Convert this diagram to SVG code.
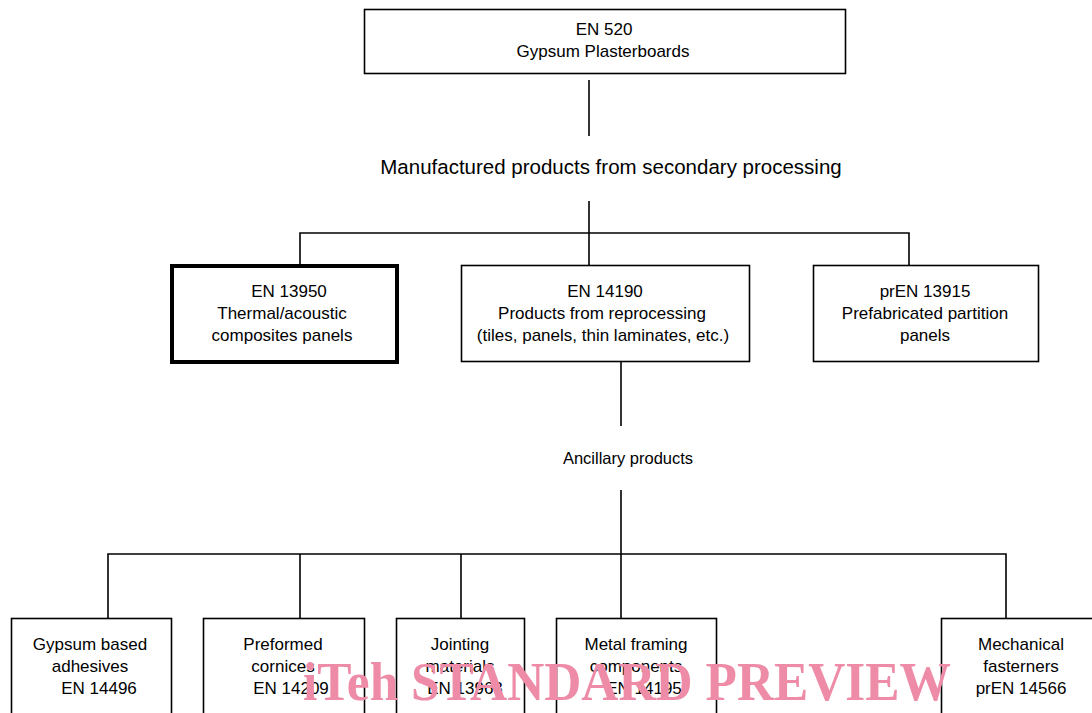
<svg xmlns="http://www.w3.org/2000/svg" width="1092" height="713" viewBox="0 0 1092 713">
<style>
.box{fill:#fff;stroke:#000;stroke-width:1.6}
.thick{fill:#fff;stroke:#000;stroke-width:4}
.t{font-family:"Liberation Sans",Arial,sans-serif;font-size:17px;fill:#000;text-anchor:middle}
.c{stroke:#000;stroke-width:1.6;fill:none}
.wm{font-family:"Liberation Serif","Times New Roman",serif;font-weight:bold;font-size:54px;fill:#EE8CA8}
</style>
<rect width="1092" height="713" fill="#fff"/>
<g id="connectors">
<path class="c" d="M589 80V136"/>
<path class="c" d="M589 201V265M300 265V233H909V265"/>
<path class="c" d="M621 362V426"/>
<path class="c" d="M621 490V618M108 618V554H1006V618M300 554V618M461 554V618"/>
</g>
<g id="n-en520">
<rect class="box" x="364.5" y="9.5" width="481" height="64"/>
<text class="t" x="604" y="35">EN 520</text>
<text class="t" x="603" y="57">Gypsum Plasterboards</text>
</g>
<g id="label-manufactured">
<text class="t" x="611" y="174" style="font-size:20.5px">Manufactured products from secondary processing</text>
</g>
<g id="n-en13950">
<rect class="thick" x="172" y="266" width="225" height="96"/>
<text class="t" x="289" y="297">EN 13950</text>
<text class="t" x="282" y="319">Thermal/acoustic</text>
<text class="t" x="282" y="341">composites panels</text>
</g>
<g id="n-en14190">
<rect class="box" x="461.5" y="265.5" width="288" height="96"/>
<text class="t" x="605" y="297">EN 14190</text>
<text class="t" x="602" y="319">Products from reprocessing</text>
<text class="t" x="603" y="341">(tiles, panels, thin laminates, etc.)</text>
</g>
<g id="n-pren13915">
<rect class="box" x="813.5" y="265.5" width="225" height="96"/>
<text class="t" x="925" y="297">prEN 13915</text>
<text class="t" x="925" y="319">Prefabricated partition</text>
<text class="t" x="925" y="341">panels</text>
</g>
<g id="label-ancillary">
<text class="t" x="628" y="464" style="font-size:16.5px">Ancillary products</text>
</g>
<g id="n-en14496">
<rect class="box" x="11.5" y="618.5" width="160" height="100"/>
<text class="t" x="90" y="650">Gypsum based</text>
<text class="t" x="90" y="672">adhesives</text>
<text class="t" x="99" y="694">EN 14496</text>
</g>
<g id="n-en14209">
<rect class="box" x="203.5" y="618.5" width="161" height="100"/>
<text class="t" x="283" y="650">Preformed</text>
<text class="t" x="283" y="672">cornices</text>
<text class="t" x="291" y="694">EN 14209</text>
</g>
<g id="n-en13963">
<rect class="box" x="396.5" y="618.5" width="128" height="100"/>
<text class="t" x="460" y="650">Jointing</text>
<text class="t" x="460" y="672">materials</text>
<text class="t" x="465" y="694">EN 13963</text>
</g>
<g id="n-en14195">
<rect class="box" x="556.5" y="618.5" width="160" height="100"/>
<text class="t" x="636" y="650">Metal framing</text>
<text class="t" x="636" y="672">components</text>
<text class="t" x="644" y="694">EN 14195</text>
</g>
<g id="n-pren14566">
<rect class="box" x="941.5" y="618.5" width="160" height="100"/>
<text class="t" x="1021" y="650">Mechanical</text>
<text class="t" x="1021" y="672">fasterners</text>
<text class="t" x="1021" y="694">prEN 14566</text>
</g>
<text class="wm" x="303" y="700" textLength="648" lengthAdjust="spacingAndGlyphs">iTeh STANDARD PREVIEW</text>
</svg>
